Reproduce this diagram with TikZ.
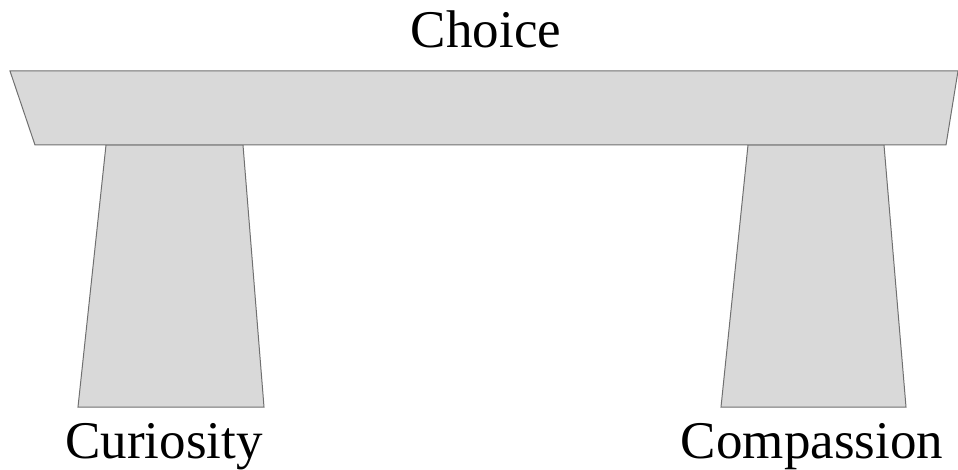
\documentclass[tikz,border=0pt]{standalone}
\usepackage{fontspec}
\setmainfont{Liberation Serif}
\definecolor{slab}{HTML}{D9D9D9}
\definecolor{edge}{HTML}{707070}
\begin{document}
\begin{tikzpicture}[x=1pt,y=-1pt,
  block/.style={fill=slab,draw=edge,line width=1pt,line join=miter},
  lbl/.style={anchor=base,inner sep=0pt,font=\fontsize{53}{63}\selectfont}]
\useasboundingbox (0,0) rectangle (958,470);
\draw[block] (106,145) -- (243,145) -- (264,407) -- (78,407) -- cycle;
\draw[block] (748,145) -- (884,145) -- (906,407) -- (721,407) -- cycle;
\draw[block] (10,71) -- (958,71) -- (946,145) -- (35,145) -- cycle;
\node[lbl] (choice) at (486,48) {Choice};
\node[lbl] (curiosity) at (164,458) {Curiosity};
\node[lbl] (compassion) at (812,458) {Compassion};
\end{tikzpicture}
\end{document}
